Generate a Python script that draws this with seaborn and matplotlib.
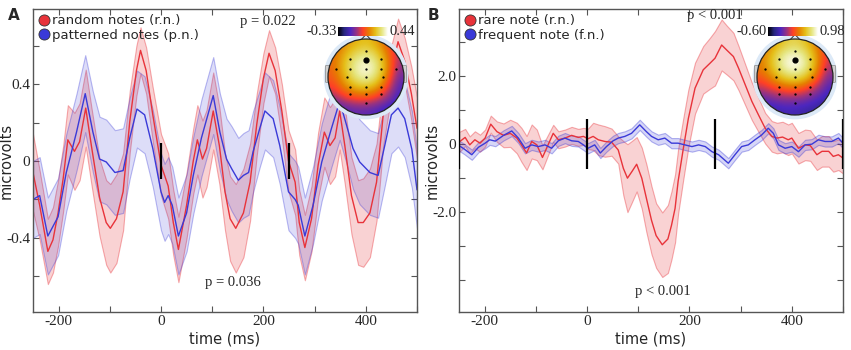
import numpy as np
import pandas as pd
import seaborn as sns
import matplotlib.pyplot as plt
from matplotlib.colors import to_rgb
from matplotlib.lines import Line2D
from matplotlib.patches import Circle, FancyBboxPatch, Polygon
from matplotlib.ticker import MultipleLocator, FixedLocator

# ---- panel A: random vs patterned notes (time ms, mean uV, half-width of band) ----
t_rand = [-250, -237, -221, -211, -201, -191, -182, -169, -159, -147, -136, -120, -107, -99, -87, -74,
          -61, -48, -40, -29, -16, 0, 14, 24, 34, 50, 63, 71, 81, 89, 102, 114, 125, 135, 146, 161,
          174, 187, 200, 211, 223, 236, 249, 262, 270, 281, 294, 307, 319, 330, 340, 349, 359, 372,
          385, 395, 408, 421, 434, 450, 463, 476, 489, 500]
m_rand = [-0.06, -0.23, -0.47, -0.41, -0.27, -0.09, 0.11, 0.05, 0.10, 0.275, 0.08, -0.19, -0.32, -0.35,
          -0.30, -0.16, 0.205, 0.47, 0.575, 0.47, 0.24, -0.02, -0.13, -0.32, -0.46, -0.23, 0.0, 0.11,
          0.01, 0.065, 0.26, 0.08, -0.16, -0.30, -0.35, -0.27, -0.11, 0.19, 0.43, 0.56, 0.47, 0.26,
          0.0, -0.11, -0.32, -0.45, -0.30, -0.02, 0.15, 0.08, 0.12, 0.26, 0.08, -0.18, -0.32, -0.32,
          -0.27, -0.11, 0.24, 0.47, 0.62, 0.52, 0.35, 0.17]
e_rand = [0.2, 0.18, 0.17, 0.17, 0.17, 0.17, 0.18, 0.2, 0.2, 0.2, 0.2, 0.2, 0.22, 0.23, 0.23, 0.2,
          0.16, 0.13, 0.12, 0.12, 0.14, 0.16, 0.17, 0.17, 0.17, 0.17, 0.17, 0.18, 0.2, 0.2, 0.2, 0.2,
          0.2, 0.22, 0.23, 0.23, 0.2, 0.16, 0.13, 0.12, 0.12, 0.14, 0.16, 0.17, 0.17, 0.17, 0.17,
          0.17, 0.18, 0.2, 0.2, 0.2, 0.2, 0.2, 0.22, 0.23, 0.23, 0.2, 0.16, 0.13, 0.12, 0.12, 0.14, 0.16]

t_patt = [-250, -237, -221, -201, -185, -165, -148, -133, -120, -107, -90, -74, -61, -47, -32, -16,
          0, 7, 14, 22, 34, 50, 63, 79, 102, 115, 128, 138, 151, 161, 171, 180, 193, 203, 219, 232,
          249, 262, 268, 281, 297, 314, 333, 349, 362, 375, 388, 408, 424, 437, 450, 463, 476, 490, 500]
m_patt = [-0.20, -0.18, -0.39, -0.29, -0.06, 0.15, 0.35, 0.15, 0.01, -0.005, -0.06, -0.05, 0.12, 0.27,
          0.24, 0.065, -0.16, -0.215, -0.18, -0.23, -0.39, -0.27, -0.075, 0.12, 0.34, 0.15, 0.01,
          -0.04, -0.10, -0.075, -0.06, 0.05, 0.17, 0.26, 0.22, 0.08, -0.16, -0.20, -0.23, -0.39,
          -0.23, -0.005, 0.17, 0.31, 0.19, 0.065, -0.005, -0.06, -0.075, 0.08, 0.24, 0.275, 0.22,
          0.06, -0.15]
e_patt = [0.2, 0.2, 0.2, 0.2, 0.2, 0.2, 0.2, 0.21, 0.22, 0.22, 0.22, 0.22, 0.21, 0.2, 0.2, 0.2,
          0.2, 0.2, 0.2, 0.2, 0.2, 0.2, 0.2, 0.2, 0.2, 0.2, 0.21, 0.22, 0.22, 0.22, 0.22, 0.21, 0.2,
          0.2, 0.2, 0.2, 0.2, 0.2, 0.2, 0.2, 0.2, 0.2, 0.2, 0.2, 0.2, 0.21, 0.22, 0.22, 0.22, 0.21,
          0.2, 0.2, 0.2, 0.2, 0.2]

# ---- panel B: rare vs frequent note ----
t_rare = [-250, -238, -229, -219, -209, -199, -188, -176, -163, -150, -137, -128, -118, -108, -98, -87,
          -76, -66, -56, -43, -30, -17, -7, 2, 12, 22, 35, 48, 61, 71, 79, 88, 97, 107, 116, 126,
          135, 147, 158, 165, 172, 178, 188, 198, 211, 227, 240, 250, 263, 273, 286, 296, 309, 322,
          335, 348, 361, 371, 382, 393, 400, 413, 426, 436, 449, 459, 472, 481, 491, 500]
m_rare = [0.05, 0.19, -0.03, 0.12, 0.02, 0.17, 0.58, 0.36, 0.25, 0.31, 0.17, -0.03, -0.27, 0.07, -0.03,
          -0.40, -0.03, 0.31, 0.12, 0.17, 0.25, 0.19, 0.22, 0.15, 0.22, 0.12, 0.07, 0.05, -0.18, -0.72,
          -1.01, -0.81, -0.60, -1.01, -1.60, -2.25, -2.70, -2.97, -2.80, -2.40, -1.90, -1.10, -0.15,
          0.75, 1.64, 2.18, 2.37, 2.52, 2.91, 2.76, 2.57, 2.23, 1.74, 1.25, 0.85, 0.46, 0.22, 0.17,
          0.20, 0.12, 0.17, -0.13, -0.03, -0.05, -0.32, -0.22, -0.22, -0.37, -0.32, -0.42]
e_rare = [0.3, 0.25, 0.25, 0.25, 0.25, 0.25, 0.25, 0.3, 0.35, 0.4, 0.45, 0.5, 0.5, 0.5, 0.45, 0.35,
          0.3, 0.25, 0.25, 0.25, 0.25, 0.25, 0.25, 0.3, 0.4, 0.45, 0.45, 0.4, 0.4, 0.8, 1.0, 0.9, 0.8,
          0.9, 1.0, 1.0, 0.95, 0.95, 1.0, 1.0, 1.0, 0.95, 0.9, 0.85, 0.75, 0.7, 0.75, 0.8, 0.75, 0.72,
          0.7, 0.65, 0.6, 0.55, 0.5, 0.45, 0.45, 0.45, 0.45, 0.45, 0.45, 0.45, 0.45, 0.45, 0.45, 0.45,
          0.45, 0.45, 0.45, 0.45]

t_freq = [-250, -240, -225, -212, -199, -190, -179, -163, -147, -134, -121, -108, -95, -82, -69, -56,
          -43, -30, -17, -7, 2, 15, 26, 38, 51, 61, 74, 87, 103, 116, 126, 139, 152, 165, 178, 191,
          205, 218, 231, 244, 257, 276, 289, 302, 315, 328, 341, 354, 364, 374, 387, 400, 413, 426,
          439, 452, 465, 478, 491, 500]
m_freq = [-0.05, -0.15, -0.32, -0.10, 0.02, 0.12, 0.08, 0.25, 0.38, 0.17, -0.13, -0.03, -0.08, -0.03,
          -0.13, 0.09, 0.17, 0.09, 0.07, -0.03, -0.13, -0.03, -0.27, -0.08, 0.09, 0.17, 0.22, 0.31,
          0.56, 0.36, 0.22, 0.12, 0.17, 0.02, 0.02, -0.03, -0.08, -0.03, -0.08, -0.23, -0.32, -0.57,
          -0.32, -0.08, -0.03, 0.12, 0.26, 0.46, 0.31, -0.03, -0.13, -0.08, -0.23, -0.03, -0.01, 0.12,
          0.07, 0.07, 0.17, 0.02]
e_freq = [0.15] * len(t_freq)

# ---- scalp maps: position on the colour scale (0 = low end, 1 = high end), rows top->bottom ----
topo_A = [[0.55, 0.65, 0.72, 0.76, 0.70, 0.55, 0.40],
          [0.58, 0.72, 0.85, 0.90, 0.82, 0.62, 0.40],
          [0.58, 0.76, 0.92, 0.98, 0.90, 0.66, 0.36],
          [0.55, 0.72, 0.88, 0.95, 0.85, 0.60, 0.30],
          [0.48, 0.62, 0.72, 0.75, 0.68, 0.48, 0.25],
          [0.35, 0.45, 0.50, 0.52, 0.45, 0.35, 0.22],
          [0.20, 0.25, 0.28, 0.28, 0.25, 0.20, 0.15]]
topo_B = [[0.58, 0.68, 0.78, 0.82, 0.76, 0.62, 0.45],
          [0.62, 0.78, 0.92, 0.97, 0.88, 0.68, 0.45],
          [0.62, 0.78, 0.95, 1.00, 0.92, 0.68, 0.40],
          [0.55, 0.68, 0.80, 0.85, 0.78, 0.58, 0.32],
          [0.42, 0.50, 0.56, 0.58, 0.52, 0.40, 0.25],
          [0.28, 0.32, 0.35, 0.35, 0.32, 0.26, 0.20],
          [0.18, 0.20, 0.22, 0.22, 0.20, 0.18, 0.15]]
elec_x = [0, -0.41, 0.40, -0.80, -0.41, 0, 0.40, 0.79, -0.50, 0, 0.44, -0.41, 0, 0.40, -0.41, 0, 0.40, 0]
elec_y = [0.69, 0.48, 0.48, 0.22, 0.22, 0.22, 0.22, 0.22, 0, 0, 0, -0.25, -0.25, -0.25, -0.46, -0.46, -0.46, -0.68]

RED = "#e8333a"
BLUE = "#3a3ad8"

sns.set_style("ticks")
plt.rcParams["font.family"] = ["DejaVu Sans"]
plt.rcParams["axes.unicode_minus"] = False

fig = plt.figure(figsize=(8.51, 3.5), dpi=100)
axA = fig.add_axes([33 / 851, 1 - 312 / 350, 384 / 851, 303 / 350])
axB = fig.add_axes([459 / 851, 1 - 312 / 350, 384 / 851, 303 / 350])


def long_frame(series):
    parts = []
    for name, t, m, e in series:
        parts.append(pd.DataFrame({"time": t, "uv": m, "err": e, "cond": name}))
    return pd.concat(parts, ignore_index=True)


def draw_panel(ax, df, names, colors, alphas, ylim, yticks, ylabels, stim, stim_h):
    for name, col, a in zip(names, colors, alphas):
        d = df[df["cond"] == name]
        ax.fill_between(d["time"], d["uv"] - d["err"], d["uv"] + d["err"],
                        facecolor=(*to_rgb(col), a), edgecolor=(*to_rgb(col), a + 0.18),
                        linewidth=0.8)
    sns.lineplot(data=df, x="time", y="uv", hue="cond", palette=dict(zip(names, colors)),
                 estimator=None, legend=False, linewidth=1.0, ax=ax)
    ax.vlines(stim, -stim_h, stim_h, color="black", linewidth=1.6, zorder=5)
    ax.set_xlim(-250, 500)
    ax.set_ylim(*ylim)
    ax.xaxis.set_major_locator(FixedLocator([-200, 0, 200, 400]))
    ax.xaxis.set_minor_locator(MultipleLocator(100))
    ax.yaxis.set_major_locator(FixedLocator(yticks))
    ax.set_yticklabels(ylabels)
    ax.tick_params(which="both", direction="in", top=True, right=True, length=4, width=0.8,
                   color="#555555", labelsize=11, pad=2)
    for lab in ax.get_xticklabels() + ax.get_yticklabels():
        lab.set_family("Liberation Serif")
    for sp in ax.spines.values():
        sp.set_color("#555555")
        sp.set_linewidth(1.0)
    ax.set_xlabel("time (ms)", fontsize=10.5)
    ax.set_ylabel("microvolts", fontsize=10.5)
    ax.xaxis.set_label_coords(0.5, -0.065)
    ax.yaxis.set_label_coords(-0.05, 0.5)
    handles = [Line2D([], [], ls="", marker="o", markersize=8, markerfacecolor=c,
                      markeredgecolor="#333333", markeredgewidth=0.6) for c in colors]
    ax.legend(handles, names, loc="upper left", frameon=False, fontsize=9.5, handletextpad=0.15,
              handlelength=0.9, labelspacing=0.1, borderpad=0.1, borderaxespad=0.3)


dfA = long_frame([("random notes (r.n.)", t_rand, m_rand, e_rand),
                  ("patterned notes (p.n.)", t_patt, m_patt, e_patt)])
draw_panel(axA, dfA, ["random notes (r.n.)", "patterned notes (p.n.)"], [RED, BLUE], [0.22, 0.17],
           (-0.785, 0.79), [-0.4, 0, 0.4], ["-0.4", "0", "0.4"], [0, 250], 0.095)
axA.yaxis.set_minor_locator(MultipleLocator(0.2))

dfB = long_frame([("rare note (r.n.)", t_rare, m_rare, e_rare),
                  ("frequent note (f.n.)", t_freq, m_freq, e_freq)])
draw_panel(axB, dfB, ["rare note (r.n.)", "frequent note (f.n.)"], [RED, BLUE], [0.22, 0.2],
           (-4.95, 3.97), [-2.0, 0, 2.0], ["-2.0", "0", "2.0"], [-250, 0, 250, 500], 0.74)
axB.yaxis.set_minor_locator(MultipleLocator(1.0))

serif = {"family": "Liberation Serif", "fontsize": 10.5}
axA.text(208, 0.725, "p = 0.022", ha="center", va="center", **serif)
axA.text(141, -0.63, "p = 0.036", ha="center", va="center", **serif)
axB.text(250, 3.78, "p < 0.001", ha="center", va="center", **serif)
axB.text(148, -4.35, "p < 0.001", ha="center", va="center", **serif)

fig.text(8 / 851, 1 - 16 / 350, "A", fontsize=11, fontweight="bold", va="center")
fig.text(428 / 851, 1 - 16 / 350, "B", fontsize=11, fontweight="bold", va="center")


def draw_head(cx, grid, cb_left, lo_txt, hi_txt):
    hx = fig.add_axes([(cx - 47.5) / 851, 1 - 124.5 / 350, 95 / 851, 95 / 350])
    hx.set_xlim(-1.25, 1.25)
    hx.set_ylim(-1.25, 1.25)
    hx.set_aspect("equal")
    hx.axis("off")
    hx.add_patch(Circle((0, 0), 1.06, facecolor="white", edgecolor="#dce9f7", linewidth=3, zorder=0))
    for side in (-1, 1):
        hx.add_patch(FancyBboxPatch((side * 1.0 - 0.05, -0.12), 0.10, 0.4,
                                    boxstyle="round,pad=0.02", facecolor="#d0d0d0",
                                    edgecolor="#888888", linewidth=0.5, zorder=1))
    im = hx.imshow(grid, extent=(-1, 1, -1, 1), cmap="CMRmap", vmin=0, vmax=1,
                   interpolation="bicubic", zorder=2)
    im.set_clip_path(Circle((0, 0), 1.0, transform=hx.transData))
    hx.add_patch(Circle((0, 0), 1.0, facecolor="none", edgecolor="#222222", linewidth=0.9, zorder=3))
    hx.add_patch(Polygon([(-0.12, 0.99), (0, 1.12), (0.12, 0.99)], closed=False, fill=False,
                         edgecolor="#333333", linewidth=0.7, zorder=3))
    hx.scatter(elec_x, elec_y, s=0.4, color="black", zorder=4)
    hx.scatter([0], [0.44], s=12, color="black", zorder=4)
    cax = fig.add_axes([cb_left / 851, 1 - 36 / 350, 50 / 851, 9 / 350])
    cb = fig.colorbar(im, cax=cax, orientation="horizontal")
    cb.set_ticks([])
    cb.outline.set_visible(False)
    fig.text((cb_left - 1) / 851, 1 - 31.5 / 350, lo_txt, ha="right", va="center",
             family="Liberation Serif", fontsize=10.5)
    fig.text((cb_left + 51) / 851, 1 - 31.5 / 350, hi_txt, ha="left", va="center",
             family="Liberation Serif", fontsize=10.5)


draw_head(366, topo_A, 338, "-0.33", "0.44")
draw_head(795, topo_B, 768, "-0.60", "0.98")

fig.savefig("out.png", dpi=100)
